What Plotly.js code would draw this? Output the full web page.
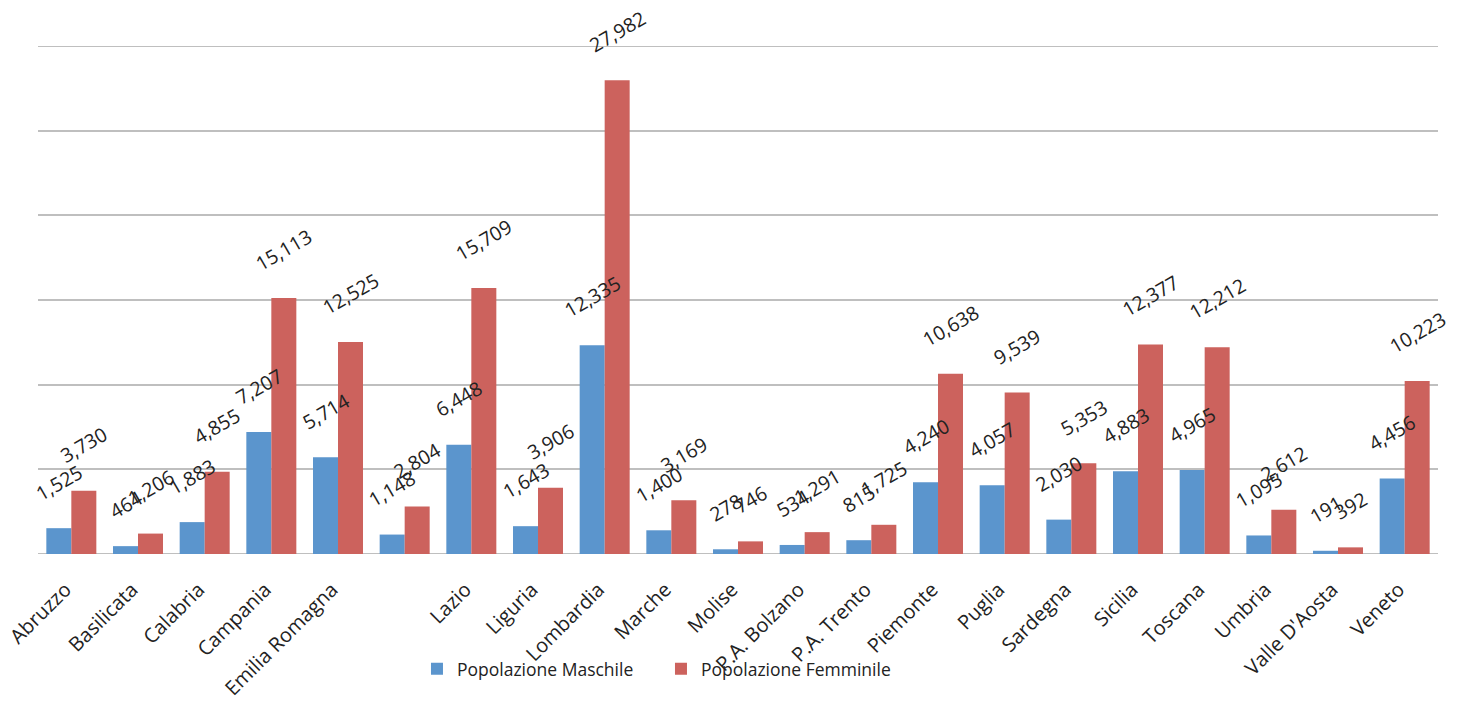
<!DOCTYPE html>
<html>
<head>
<meta charset="utf-8">
<script src="https://cdn.plot.ly/plotly-3.0.1.min.js"></script>
<style>
  html, body { margin: 0; padding: 0; background: #ffffff; }
  #chart { width: 1465px; height: 705px; }
</style>
</head>
<body>
<div id="chart"></div>
<script>
// Regions (the sixth one has no printed label)
const regions = ['Abruzzo', 'Basilicata', 'Calabria', 'Campania', 'Emilia Romagna', ' ',
  'Lazio', 'Liguria', 'Lombardia', 'Marche', 'Molise', 'P.A. Bolzano', 'P.A. Trento',
  'Piemonte', 'Puglia', 'Sardegna', 'Sicilia', 'Toscana', 'Umbria', "Valle D'Aosta", 'Veneto'];

const maschile = [1525, 464, 1883, 7207, 5714, 1148, 6448, 1643, 12335, 1400, 278, 534, 815,
  4240, 4057, 2030, 4883, 4965, 1095, 191, 4456];

const femminile = [3730, 1206, 4855, 15113, 12525, 2804, 15709, 3906, 27982, 3169, 746, 1291, 1725,
  10638, 9539, 5353, 12377, 12212, 2612, 392, 10223];

const seriesNames = ['Popolazione Maschile', 'Popolazione Femminile'];

// Value axis: 0 to 30,000 with a grid line every 5,000
const yMax = 30000;
const yStep = 5000;

const BLUE = '#5b95cd';
const RED = '#cc625d';
const GRID = '#bfbfbf';
const TEXT = '#222222';
const FONT = 'Open Sans, Liberation Sans, sans-serif';

const slots = regions.map((r, i) => 'r' + i);
const fmt = v => v.toLocaleString('en-US');

const traces = [
  { type: 'bar', name: seriesNames[0], x: slots, y: maschile, marker: { color: BLUE },
    hoverinfo: 'y' },
  { type: 'bar', name: seriesNames[1], x: slots, y: femminile, marker: { color: RED },
    hoverinfo: 'y' }
];

// Rotated value labels above each bar
const annotations = [];
[[maschile, -12.5], [femminile, 12.5]].forEach(([vals, dx]) => {
  vals.forEach((v, i) => {
    annotations.push({
      x: slots[i], y: v, xref: 'x', yref: 'y',
      text: fmt(v), showarrow: false, textangle: -30,
      xanchor: 'center', yanchor: 'bottom', xshift: dx, yshift: 19,
      font: { family: FONT, size: 19.5, color: TEXT }
    });
  });
});

// Grid lines at both ends of the value range
const edgeLines = [0, yMax].map(v => ({
  type: 'line', xref: 'paper', yref: 'y', x0: 0, x1: 1, y0: v, y1: v,
  line: { color: GRID, width: 2 }, layer: 'below'
}));

const layout = {
  width: 1465, height: 705,
  paper_bgcolor: '#ffffff', plot_bgcolor: '#ffffff',
  margin: { l: 38, r: 27, t: 46, b: 151 },
  barmode: 'group', bargap: 0.25, bargroupgap: 0,
  showlegend: true,
  legend: {
    orientation: 'h', x: 0.2707, xanchor: 'left', y: -0.226, yanchor: 'middle',
    font: { family: FONT, size: 17.5, color: TEXT },
    bgcolor: 'rgba(0,0,0,0)', itemwidth: 30, entrywidth: 199, entrywidthmode: 'pixels',
    traceorder: 'normal'
  },
  xaxis: {
    type: 'category', tickmode: 'array', tickvals: slots, ticktext: regions,
    range: [-0.5, regions.length - 0.5],
    tickangle: -45, ticks: '', showgrid: false, zeroline: false, showline: false,
    ticklabelstandoff: 19, ticklabelshift: -6,
    tickfont: { family: FONT, size: 20, color: TEXT }
  },
  yaxis: {
    range: [0, yMax], dtick: yStep, tick0: 0, showticklabels: false, ticks: '',
    showgrid: true, gridcolor: GRID, gridwidth: 2, zeroline: false, showline: false
  },
  shapes: edgeLines,
  annotations: annotations,
  font: { family: FONT }
};

Plotly.newPlot('chart', traces, layout, { displayModeBar: false, staticPlot: true });
</script>
</body>
</html>
